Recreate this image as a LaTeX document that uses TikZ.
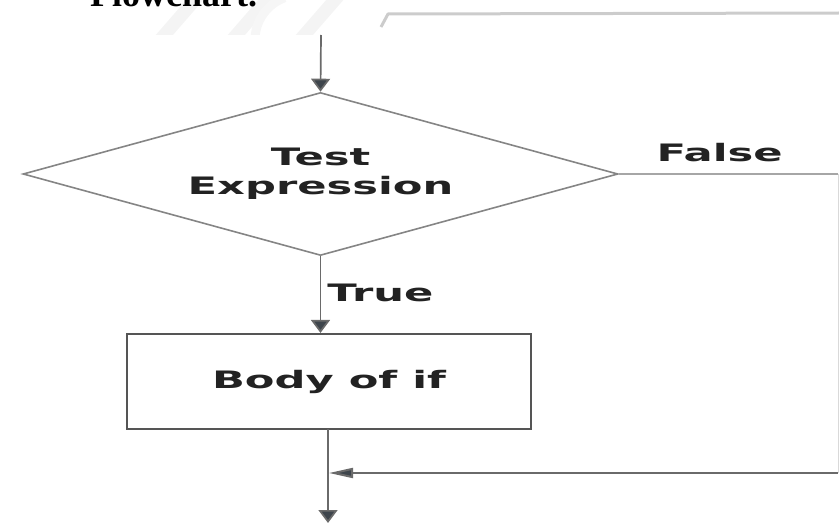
\documentclass[tikz,border=0pt]{standalone}
\usepackage{fontspec}
\setmainfont{Liberation Serif}
\newfontfamily\flowfont{DejaVu Sans}[BoldFont={DejaVu Sans Bold}]
\usetikzlibrary{shapes.geometric,arrows.meta}

\definecolor{edgegray}{HTML}{858585}
\definecolor{linegray}{HTML}{6A6A6A}
\definecolor{boxgray}{HTML}{555555}
\definecolor{tipgray}{HTML}{3E454C}
\definecolor{inkdark}{HTML}{222222}

\newcommand{\wide}[1]{\scalebox{1.8}[1]{#1}}

\tikzset{
  flowtext/.style={font=\flowfont\bfseries\fontsize{24}{28}\selectfont, text=inkdark, align=center},
  decision/.style={draw=edgegray, line width=1.6pt, shape=diamond, inner sep=0pt,
    aspect=3.65, minimum width=595pt, minimum height=163pt, flowtext},
  process/.style={draw=boxgray, line width=2.2pt, inner sep=0pt,
    minimum width=404pt, minimum height=95pt, flowtext},
  downtip/.style={-{Triangle[length=13pt,width=19pt,fill=tipgray]}},
  lefttip/.style={-{Triangle[length=24pt,width=10pt,fill=tipgray]}},
  flow/.style={draw=linegray, line width=1.7pt},
  label/.style={flowtext, inner sep=0pt},
}

\begin{document}
\begin{tikzpicture}[x=1pt,y=-1pt]
  \useasboundingbox (0,0) rectangle (839,527);
  \clip (0,0) rectangle (839,527);

  % heading strip with faint watermark
  \begin{scope}
    \clip (115,0) rectangle (839,35);
    \foreach \a in {160,232,300}
      \draw[gray!9, line width=13pt] (\a,40) -- (\a+40,-6);
    \draw[gray!7, line width=9pt] (255,40) arc[start angle=180, end angle=110, radius=45pt];
  \end{scope}
  \draw[gray!40, line width=3pt, line join=round] (381,27) -- (388,14) -- (839,13);
  \node[anchor=base west, inner sep=0pt, font=\bfseries\fontsize{36}{40}\selectfont]
    (title) at (90,7) {Flowchart.};

  % flowchart
  \coordinate (entry) at (321,35);
  \node[decision] (test) at (320.5,174)
    {\raisebox{-3pt}{\wide{\begin{tabular}{@{}c@{}}Test\\[1pt]Expression\end{tabular}}}};
  \node[process] (body) at (329,381.5) {\wide{Body of if}};
  \coordinate (bodyout) at (328,429);
  \coordinate (exit) at (328,523);
  \coordinate (join) at (329,473);
  \coordinate (farright) at (838,174);
  \coordinate (farbottom) at (838,473);

  \draw[flow, downtip] (entry) -- (test.north);
  \draw[flow, downtip] (test.south) -- (test.south |- body.north)
    node[label, anchor=west, pos=0.48, xshift=6pt] {\wide{True}};
  \draw[flow, line width=2pt, color=gray!70] (test.east) -- (farright)
    node[label, pos=0.46, yshift=21pt] {\wide{False}};
  \draw[gray!30, line width=1pt] (farright) -- (farbottom);
  \draw[flow, line width=2pt, lefttip] (farbottom) -- (join);
  \draw[flow, downtip] (bodyout) -- (exit);
\end{tikzpicture}
\end{document}
